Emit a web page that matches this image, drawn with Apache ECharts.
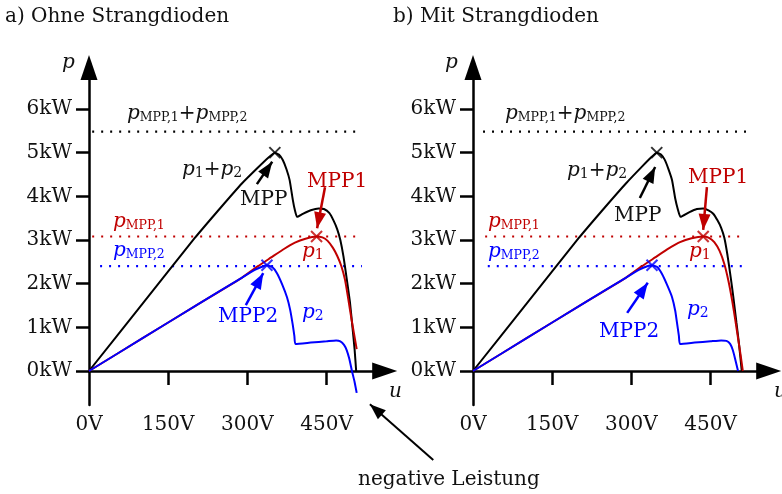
<!DOCTYPE html>
<html>
<head>
<meta charset="utf-8">
<script src="https://cdn.jsdelivr.net/npm/echarts@6/dist/echarts.min.js"></script>
<style>html,body{margin:0;padding:0;background:#fff}#main{width:782px;height:494px}</style>
</head>
<body>
<div id="main"></div>
<script>
// Werte: u in V, p in kW
var tickP = [0, 1, 2, 3, 4, 5, 6];
var tickU = [0, 150, 300, 450];

// a) ohne Strangdioden
var sumA = [[0,0],[100,1.52],[200,3.04],[250,3.75],[290,4.3],[320,4.66],[340,4.89],[352,5.0],[360,4.95],[367,4.83],[374,4.62],[380,4.37],[386,3.92],[390,3.68],[394,3.53],[405,3.6],[420,3.68],[435,3.72],[445,3.71],[455,3.62],[463,3.45],[470,3.25],[476,3.0],[482,2.62],[488,2.12],[494,1.6],[499,1.0],[503,0.5],[506,0]];
var p1A = [[0,0],[100,0.74],[200,1.48],[290,2.14],[320,2.4],[345,2.6],[370,2.8],[390,2.94],[410,3.03],[431,3.08],[442,3.06],[452,2.98],[462,2.82],[470,2.64],[478,2.4],[485,2.08],[491,1.65],[497,1.2],[502,0.85],[507,0.5]];
var p2A = [[0,0],[100,0.74],[200,1.48],[290,2.14],[315,2.32],[330,2.4],[337,2.42],[347,2.38],[356,2.24],[366,1.98],[375,1.69],[381,1.4],[386,1.05],[389,0.8],[391,0.62],[420,0.65],[450,0.68],[468,0.7],[476,0.68],[483,0.6],[488,0.48],[493,0.28],[498,0],[503,-0.25],[507,-0.5]];

// b) mit Strangdioden
var sumB = [[0,0],[100,1.52],[200,3.04],[250,3.75],[290,4.3],[320,4.68],[338,4.9],[348,5.0],[356,4.96],[363,4.84],[370,4.63],[377,4.37],[383,3.95],[388,3.7],[393,3.53],[410,3.64],[424,3.71],[436,3.72],[446,3.68],[455,3.6],[463,3.45],[470,3.28],[476,3.05],[482,2.65],[488,2.15],[493,1.7],[499,1.1],[504,0.6],[509,0]];
var p1B = [[0,0],[100,0.74],[200,1.48],[290,2.14],[320,2.4],[345,2.6],[370,2.8],[392,2.95],[414,3.04],[436,3.08],[447,3.05],[457,2.95],[467,2.75],[476,2.45],[484,2.05],[491,1.6],[497,1.15],[502,0.75],[507,0.35],[511,0]];
var p2B = [[0,0],[100,0.74],[200,1.48],[290,2.14],[315,2.32],[330,2.4],[339,2.42],[349,2.38],[358,2.22],[368,1.96],[377,1.69],[383,1.38],[387,1.05],[390,0.8],[392,0.62],[420,0.65],[450,0.68],[470,0.7],[480,0.69],[487,0.62],[492,0.48],[496,0.3],[499,0.15],[502,0]];

// MPP, MPP1, MPP2
var mppA = [[352,5.0],[431,3.08],[337,2.42]];
var mppB = [[348,5.0],[436,3.08],[339,2.42]];
// pMPP,1+pMPP,2 / pMPP,1 / pMPP,2
var levels = [5.48, 3.08, 2.4];
var dotStartA = [6, 6, 21];
var dotStartB = [19, 23, 28];
var dotEnd = 517;
// Pfeile [Anfang, Spitze]
var arrowsA = [[[318,4.28],[347,4.79]], [[447,4.21],[432,3.27]], [[297,1.51],[330,2.24]]];
var arrowsB = [[[316,3.96],[345,4.67]], [[443,4.21],[436,3.23]], [[292,1.33],[331,2.02]]];
var negArrow = [[652,-2.04],[532,-0.76]];

var colors = ['#000000', '#c00000', '#0000ff'];
var FONT = '"DejaVu Serif"';
var PX_U = 0.528, PX_P = 43.67;
var U_MAX = 560, P_MIN = -0.78, P_MAX = 6.95;
var headPath = 'path://M0,0M32,32M16,16L22,32L10,32Z';

var myChart = echarts.init(document.getElementById('main'));

function grid(left) {
    return {left: left, top: 371 - P_MAX * PX_P, width: U_MAX * PX_U, height: (P_MAX - P_MIN) * PX_P, outerBoundsMode: 'none'};
}
function xAxis(i) {
    return {
        gridIndex: i, type: 'value', min: 0, max: U_MAX,
        axisLine: {onZero: true, symbol: ['none', 'triangle'], symbolSize: [17, 25], lineStyle: {color: '#000', width: 2.5}},
        axisTick: {show: true, customValues: [150, 300, 450], length: 14, lineStyle: {color: '#000', width: 2.5}},
        axisLabel: {customValues: tickU, formatter: '{value}V', margin: 10, color: '#111', fontSize: 20, fontFamily: FONT},
        splitLine: {show: false}
    };
}
function yAxis(i) {
    return {
        gridIndex: i, type: 'value', min: P_MIN, max: P_MAX,
        axisLine: {onZero: true, symbol: ['none', 'triangle'], symbolSize: [17, 25], lineStyle: {color: '#000', width: 2.5}},
        axisTick: {show: true, customValues: tickP, length: 13, lineStyle: {color: '#000', width: 2.5}},
        axisLabel: {customValues: tickP, formatter: '{value}kW', margin: 17, color: '#111', fontSize: 20, fontFamily: FONT},
        splitLine: {show: false}
    };
}

function panelSeries(i, curves, mpp, dotStart, arrows) {
    var out = [];
    curves.forEach(function (c, k) {
        out.push({type: 'line', xAxisIndex: i, yAxisIndex: i, data: c, showSymbol: false, smooth: 0.15,
            lineStyle: {color: colors[k], width: 2}, z: 3 + k});
    });
    levels.forEach(function (lv, k) {
        out.push({type: 'line', xAxisIndex: i, yAxisIndex: i, data: [[dotStart[k], lv], [dotEnd, lv]], showSymbol: false,
            lineStyle: {color: colors[k], width: 2.2, type: [2, 7]}, z: 2});
    });
    mpp.forEach(function (m, k) {
        out.push({type: 'scatter', xAxisIndex: i, yAxisIndex: i, data: [m], symbol: 'path://M0,0L10,10M10,0L0,10', symbolSize: 11,
            itemStyle: {color: 'none', borderColor: colors[k], borderWidth: 2}, z: 10});
    });
    arrows.forEach(function (a, k) {
        out.push({type: 'lines', coordinateSystem: 'cartesian2d', xAxisIndex: i, yAxisIndex: i, clip: false,
            symbol: ['none', headPath], symbolSize: 32,
            lineStyle: {color: colors[k], width: 2.5, opacity: 1}, data: [{coords: a}], z: 10});
    });
    return out;
}

var series = panelSeries(0, [sumA, p1A, p2A], mppA, dotStartA, arrowsA)
    .concat(panelSeries(1, [sumB, p1B, p2B], mppB, dotStartB, arrowsB));
series.push({type: 'lines', coordinateSystem: 'cartesian2d', xAxisIndex: 0, yAxisIndex: 0, clip: false,
    symbol: ['none', headPath], symbolSize: 32,
    lineStyle: {color: '#000', width: 2, opacity: 1}, data: [{coords: negArrow}], z: 10});

var rich = {
    i: {fontFamily: FONT, fontStyle: 'italic', fontSize: 20},
    n: {fontFamily: FONT, fontSize: 20},
    s: {fontFamily: FONT, fontSize: 12.5, padding: [7, 0, 0, 0]},
    d: {fontFamily: FONT, fontSize: 14, padding: [7, 0, 0, 0]}
};
function txt(x, y, text, color) {
    return {type: 'text', x: x, y: y, z: 20,
        style: {text: text, rich: rich, fill: color || '#111', font: '20px ' + FONT, align: 'left', verticalAlign: 'middle'}};
}
var SUM_LV = '{i|p}{s|MPP,1}{n|+}{i|p}{s|MPP,2}';
var SUM_P = '{i|p}{d|1}{n|+}{i|p}{d|2}';
var graphics = [
    txt(5, 17, '{n|a) Ohne Strangdioden}'),
    txt(62, 63, '{i|p}'),
    txt(389, 392, '{i|u}'),
    txt(127, 114, SUM_LV),
    txt(182, 170, SUM_P),
    txt(240, 200, '{n|MPP}'),
    txt(307, 182, '{n|MPP1}', colors[1]),
    txt(113, 222, '{i|p}{s|MPP,1}', colors[1]),
    txt(113, 251, '{i|p}{s|MPP,2}', colors[2]),
    txt(302, 252, '{i|p}{d|1}', colors[1]),
    txt(302, 313, '{i|p}{d|2}', colors[2]),
    txt(218, 317, '{n|MPP2}', colors[2]),
    txt(358, 480, '{n|negative Leistung}'),

    txt(393, 17, '{n|b) Mit Strangdioden}'),
    txt(445, 63, '{i|p}'),
    txt(774, 392, '{i|u}'),
    txt(505, 114, SUM_LV),
    txt(567, 171, SUM_P),
    txt(614, 216, '{n|MPP}'),
    txt(688, 178, '{n|MPP1}', colors[1]),
    txt(488, 222, '{i|p}{s|MPP,1}', colors[1]),
    txt(488, 252, '{i|p}{s|MPP,2}', colors[2]),
    txt(689, 252, '{i|p}{d|1}', colors[1]),
    txt(687, 310, '{i|p}{d|2}', colors[2]),
    txt(599, 332, '{n|MPP2}', colors[2])
];

var Option = {
    backgroundColor: '#fff',
    animation: false,
    grid: [grid(89), grid(473)],
    xAxis: [xAxis(0), xAxis(1)],
    yAxis: [yAxis(0), yAxis(1)],
    series: series,
    graphic: graphics
};
myChart.setOption(Option);
</script>
</body>
</html>
